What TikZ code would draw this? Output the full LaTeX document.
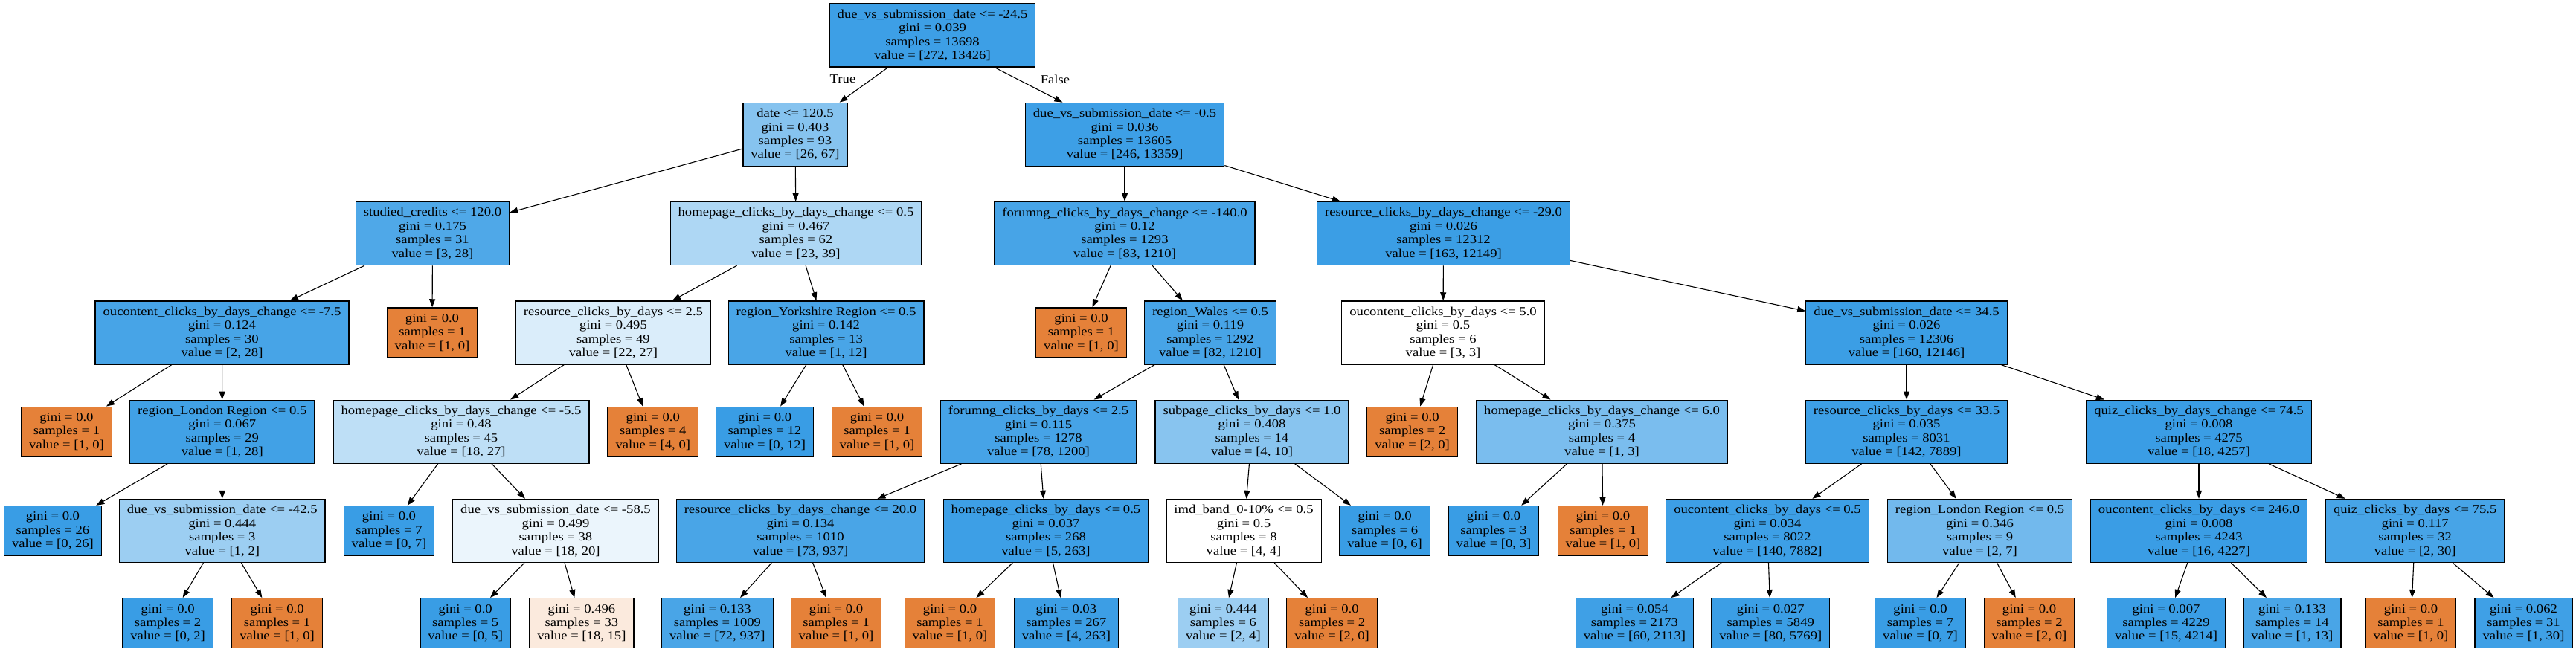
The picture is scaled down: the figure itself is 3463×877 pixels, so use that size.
\documentclass[tikz,border=0pt]{standalone}
\usepackage{fontspec}
\setmainfont{Liberation Serif}[FakeStretch=1.13]
\usetikzlibrary{arrows.meta}
\definecolor{tblue}{RGB}{57,157,229}
\definecolor{torange}{RGB}{229,129,57}
\begin{document}
\begin{tikzpicture}[x=1pt, y=-1pt, >={Triangle[length=11pt,width=8pt]},
  block/.style={draw, line width=1.3pt, inner xsep=10.5pt, inner ysep=0pt, minimum height=85pt, align=center, font=\fontsize{16.5pt}{18.4pt}\selectfont},
  leaf/.style={block, minimum height=67pt},
  yes/.style={fill=tblue!#1},
  no/.style={fill=torange!#1},
  lbl/.style={font=\fontsize{16.5pt}{18.4pt}\selectfont}]

  \useasboundingbox (0,0) rectangle (3463,877);

  % First row
  \node[block, yes=98] (A1) at (1253.5,47.5) {due\_vs\_submission\_date <= -24.5\\gini = 0.039\\samples = 13698\\value = [272, 13426]};

  % Second row
  \node[block, yes=61] (B1) at (1069,180.8) {date <= 120.5\\gini = 0.403\\samples = 93\\value = [26, 67]};
  \node[block, yes=98] (B2) at (1512,180.8) {due\_vs\_submission\_date <= -0.5\\gini = 0.036\\samples = 13605\\value = [246, 13359]};

  % Third row
  \node[block, yes=89] (C1) at (581.5,314.1) {studied\_credits <= 120.0\\gini = 0.175\\samples = 31\\value = [3, 28]};
  \node[block, yes=41] (C2) at (1070,314.1) {homepage\_clicks\_by\_days\_change <= 0.5\\gini = 0.467\\samples = 62\\value = [23, 39]};
  \node[block, yes=93] (C3) at (1512,314.1) {forumng\_clicks\_by\_days\_change <= -140.0\\gini = 0.12\\samples = 1293\\value = [83, 1210]};
  \node[block, yes=99] (C4) at (1940.5,314.1) {resource\_clicks\_by\_days\_change <= -29.0\\gini = 0.026\\samples = 12312\\value = [163, 12149]};

  % Fourth row
  \node[block, yes=93] (D1) at (298.5,447.4) {oucontent\_clicks\_by\_days\_change <= -7.5\\gini = 0.124\\samples = 30\\value = [2, 28]};
  \node[leaf, no=100] (D2) at (581,447.4) {gini = 0.0\\samples = 1\\value = [1, 0]};
  \node[block, yes=18.5] (D3) at (824.5,447.4) {resource\_clicks\_by\_days <= 2.5\\gini = 0.495\\samples = 49\\value = [22, 27]};
  \node[block, yes=92] (D4) at (1110.6,447.4) {region\_Yorkshire Region <= 0.5\\gini = 0.142\\samples = 13\\value = [1, 12]};
  \node[leaf, no=100] (D5) at (1453.5,447.4) {gini = 0.0\\samples = 1\\value = [1, 0]};
  \node[block, yes=93] (D6) at (1627,447.4) {region\_Wales <= 0.5\\gini = 0.119\\samples = 1292\\value = [82, 1210]};
  \node[block, yes=0] (D7) at (1940,447.4) {oucontent\_clicks\_by\_days <= 5.0\\gini = 0.5\\samples = 6\\value = [3, 3]};
  \node[block, yes=99] (D8) at (2563,447.4) {due\_vs\_submission\_date <= 34.5\\gini = 0.026\\samples = 12306\\value = [160, 12146]};

  % Fifth row
  \node[leaf, no=100] (E1) at (89.5,580.7) {gini = 0.0\\samples = 1\\value = [1, 0]};
  \node[block, yes=96] (E2) at (298.8,580.7) {region\_London Region <= 0.5\\gini = 0.067\\samples = 29\\value = [1, 28]};
  \node[block, yes=33] (E3) at (620,580.7) {homepage\_clicks\_by\_days\_change <= -5.5\\gini = 0.48\\samples = 45\\value = [18, 27]};
  \node[leaf, no=100] (E4) at (877.8,580.7) {gini = 0.0\\samples = 4\\value = [4, 0]};
  \node[leaf, yes=100] (E5) at (1028,580.7) {gini = 0.0\\samples = 12\\value = [0, 12]};
  \node[leaf, no=100] (E6) at (1179,580.7) {gini = 0.0\\samples = 1\\value = [1, 0]};
  \node[block, yes=93.5] (E7) at (1396,580.7) {forumng\_clicks\_by\_days <= 2.5\\gini = 0.115\\samples = 1278\\value = [78, 1200]};
  \node[block, yes=60] (E8) at (1683,580.7) {subpage\_clicks\_by\_days <= 1.0\\gini = 0.408\\samples = 14\\value = [4, 10]};
  \node[leaf, no=100] (E9) at (1898.6,580.7) {gini = 0.0\\samples = 2\\value = [2, 0]};
  \node[block, yes=67] (E10) at (2153.5,580.7) {homepage\_clicks\_by\_days\_change <= 6.0\\gini = 0.375\\samples = 4\\value = [1, 3]};
  \node[block, yes=98] (E11) at (2563,580.7) {resource\_clicks\_by\_days <= 33.5\\gini = 0.035\\samples = 8031\\value = [142, 7889]};
  \node[block, yes=99.6] (E12) at (2956,580.7) {quiz\_clicks\_by\_days\_change <= 74.5\\gini = 0.008\\samples = 4275\\value = [18, 4257]};

  % Sixth row
  \node[leaf, yes=100] (F1) at (71,714) {gini = 0.0\\samples = 26\\value = [0, 26]};
  \node[block, yes=50] (F2) at (298.8,714) {due\_vs\_submission\_date <= -42.5\\gini = 0.444\\samples = 3\\value = [1, 2]};
  \node[leaf, yes=100] (F3) at (523,714) {gini = 0.0\\samples = 7\\value = [0, 7]};
  \node[block, yes=10] (F4) at (747,714) {due\_vs\_submission\_date <= -58.5\\gini = 0.499\\samples = 38\\value = [18, 20]};
  \node[block, yes=92] (F5) at (1076,714) {resource\_clicks\_by\_days\_change <= 20.0\\gini = 0.134\\samples = 1010\\value = [73, 937]};
  \node[block, yes=98] (F6) at (1406,714) {homepage\_clicks\_by\_days <= 0.5\\gini = 0.037\\samples = 268\\value = [5, 263]};
  \node[block, yes=0] (F7) at (1672,714) {imd\_band\_0-10\% <= 0.5\\gini = 0.5\\samples = 8\\value = [4, 4]};
  \node[leaf, yes=100] (F8) at (1861.6,714) {gini = 0.0\\samples = 6\\value = [0, 6]};
  \node[leaf, yes=100] (F9) at (2008,714) {gini = 0.0\\samples = 3\\value = [0, 3]};
  \node[leaf, no=100] (F10) at (2155,714) {gini = 0.0\\samples = 1\\value = [1, 0]};
  \node[block, yes=98] (F11) at (2376,714) {oucontent\_clicks\_by\_days <= 0.5\\gini = 0.034\\samples = 8022\\value = [140, 7882]};
  \node[block, yes=71] (F12) at (2661.5,714) {region\_London Region <= 0.5\\gini = 0.346\\samples = 9\\value = [2, 7]};
  \node[block, yes=99.6] (F13) at (2956,714) {oucontent\_clicks\_by\_days <= 246.0\\gini = 0.008\\samples = 4243\\value = [16, 4227]};
  \node[block, yes=93] (F14) at (3246.7,714) {quiz\_clicks\_by\_days <= 75.5\\gini = 0.117\\samples = 32\\value = [2, 30]};

  % Seventh row
  \node[leaf, yes=100] (G1) at (225.6,838.2) {gini = 0.0\\samples = 2\\value = [0, 2]};
  \node[leaf, no=100] (G2) at (372.6,838.2) {gini = 0.0\\samples = 1\\value = [1, 0]};
  \node[leaf, yes=100] (G3) at (625.7,838.2) {gini = 0.0\\samples = 5\\value = [0, 5]};
  \node[leaf, no=17] (G4) at (781.9,838.2) {gini = 0.496\\samples = 33\\value = [18, 15]};
  \node[leaf, yes=92] (G5) at (964.4,838.2) {gini = 0.133\\samples = 1009\\value = [72, 937]};
  \node[leaf, no=100] (G6) at (1124,838.2) {gini = 0.0\\samples = 1\\value = [1, 0]};
  \node[leaf, no=100] (G7) at (1277,838.2) {gini = 0.0\\samples = 1\\value = [1, 0]};
  \node[leaf, yes=98.5] (G8) at (1433.4,838.2) {gini = 0.03\\samples = 267\\value = [4, 263]};
  \node[leaf, yes=50] (G9) at (1644.4,838.2) {gini = 0.444\\samples = 6\\value = [2, 4]};
  \node[leaf, no=100] (G10) at (1790.6,838.2) {gini = 0.0\\samples = 2\\value = [2, 0]};
  \node[leaf, yes=97] (G11) at (2197.4,838.2) {gini = 0.054\\samples = 2173\\value = [60, 2113]};
  \node[leaf, yes=99] (G12) at (2380.3,838.2) {gini = 0.027\\samples = 5849\\value = [80, 5769]};
  \node[leaf, yes=100] (G13) at (2581.5,838.2) {gini = 0.0\\samples = 7\\value = [0, 7]};
  \node[leaf, no=100] (G14) at (2728,838.2) {gini = 0.0\\samples = 2\\value = [2, 0]};
  \node[leaf, yes=99.6] (G15) at (2912,838.2) {gini = 0.007\\samples = 4229\\value = [15, 4214]};
  \node[leaf, yes=92] (G16) at (3081.4,838.2) {gini = 0.133\\samples = 14\\value = [1, 13]};
  \node[leaf, no=100] (G17) at (3241,838.2) {gini = 0.0\\samples = 1\\value = [1, 0]};
  \node[leaf, yes=97] (G18) at (3392.5,838.2) {gini = 0.062\\samples = 31\\value = [1, 30]};

  % Labels
  \node[lbl] (T) at (1133,106) {True};
  \node[lbl] (F) at (1418.5,107) {False};

  % Arrows from the root
  \draw[->, line width=1.1pt] (A1) -- (B1);
  \draw[->, line width=1.1pt] (A1) -- (B2);

  % Arrows to third row
  \draw[->, line width=1.1pt] (B1) -- (C1);
  \draw[->, line width=1.1pt] (B1) -- (C2);
  \draw[->, line width=1.1pt] (B2) -- (C3);
  \draw[->, line width=1.1pt] (B2) -- (C4);

  % Arrows to fourth row
  \draw[->, line width=1.1pt] (C1) -- (D1);
  \draw[->, line width=1.1pt] (C1) -- (D2);
  \draw[->, line width=1.1pt] (C2) -- (D3);
  \draw[->, line width=1.1pt] (C2) -- (D4);
  \draw[->, line width=1.1pt] (C3) -- (D5);
  \draw[->, line width=1.1pt] (C3) -- (D6);
  \draw[->, line width=1.1pt] (C4) -- (D7);
  \draw[->, line width=1.1pt] (C4) -- (D8);

  % Arrows to fifth row
  \draw[->, line width=1.1pt] (D1) -- (E1);
  \draw[->, line width=1.1pt] (D1) -- (E2);
  \draw[->, line width=1.1pt] (D3) -- (E3);
  \draw[->, line width=1.1pt] (D3) -- (E4);
  \draw[->, line width=1.1pt] (D4) -- (E5);
  \draw[->, line width=1.1pt] (D4) -- (E6);
  \draw[->, line width=1.1pt] (D6) -- (E7);
  \draw[->, line width=1.1pt] (D6) -- (E8);
  \draw[->, line width=1.1pt] (D7) -- (E9);
  \draw[->, line width=1.1pt] (D7) -- (E10);
  \draw[->, line width=1.1pt] (D8) -- (E11);
  \draw[->, line width=1.1pt] (D8) -- (E12);

  % Arrows to sixth row
  \draw[->, line width=1.1pt] (E2) -- (F1);
  \draw[->, line width=1.1pt] (E2) -- (F2);
  \draw[->, line width=1.1pt] (E3) -- (F3);
  \draw[->, line width=1.1pt] (E3) -- (F4);
  \draw[->, line width=1.1pt] (E7) -- (F5);
  \draw[->, line width=1.1pt] (E7) -- (F6);
  \draw[->, line width=1.1pt] (E8) -- (F7);
  \draw[->, line width=1.1pt] (E8) -- (F8);
  \draw[->, line width=1.1pt] (E10) -- (F9);
  \draw[->, line width=1.1pt] (E10) -- (F10);
  \draw[->, line width=1.1pt] (E11) -- (F11);
  \draw[->, line width=1.1pt] (E11) -- (F12);
  \draw[->, line width=1.1pt] (E12) -- (F13);
  \draw[->, line width=1.1pt] (E12) -- (F14);

  % Arrows to seventh row
  \draw[->, line width=1.1pt] (F2) -- (G1);
  \draw[->, line width=1.1pt] (F2) -- (G2);
  \draw[->, line width=1.1pt] (F4) -- (G3);
  \draw[->, line width=1.1pt] (F4) -- (G4);
  \draw[->, line width=1.1pt] (F5) -- (G5);
  \draw[->, line width=1.1pt] (F5) -- (G6);
  \draw[->, line width=1.1pt] (F6) -- (G7);
  \draw[->, line width=1.1pt] (F6) -- (G8);
  \draw[->, line width=1.1pt] (F7) -- (G9);
  \draw[->, line width=1.1pt] (F7) -- (G10);
  \draw[->, line width=1.1pt] (F11) -- (G11);
  \draw[->, line width=1.1pt] (F11) -- (G12);
  \draw[->, line width=1.1pt] (F12) -- (G13);
  \draw[->, line width=1.1pt] (F12) -- (G14);
  \draw[->, line width=1.1pt] (F13) -- (G15);
  \draw[->, line width=1.1pt] (F13) -- (G16);
  \draw[->, line width=1.1pt] (F14) -- (G17);
  \draw[->, line width=1.1pt] (F14) -- (G18);

\end{tikzpicture}
\end{document}
